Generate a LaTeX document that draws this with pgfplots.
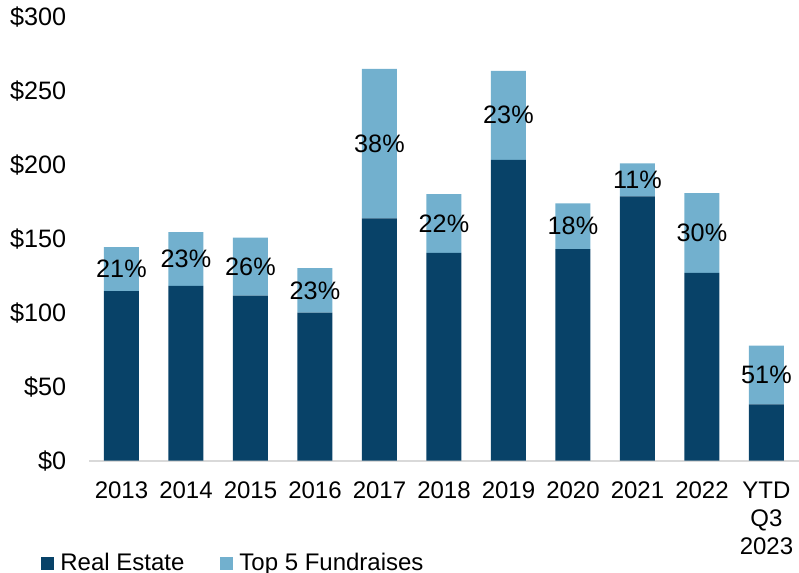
\documentclass[border=0pt]{standalone}
\usepackage{fontspec}
\setmainfont{Liberation Sans}
\usepackage{pgfplots}
\pgfplotsset{compat=1.18}
\definecolor{reDark}{RGB}{8,66,104}
\definecolor{topLight}{RGB}{114,176,206}
\definecolor{axisGray}{RGB}{217,217,217}
\tikzset{pct/.style={font=\fontsize{12.6}{14}\selectfont, inner sep=0pt}}

\begin{document}
\begin{tikzpicture}
  \begin{axis}[
    at={(0,0)}, anchor=south west,
    scale only axis,
    width=354.75pt, height=221.8pt,
    ybar stacked, bar width=17.5pt,
    xmin=-0.5, xmax=10.5,
    ymin=0, ymax=300,
    xtick={0,...,10},
    xticklabels={2013,2014,2015,2016,2017,2018,2019,2020,2021,2022,{YTD\\Q3\\2023}},
    ytick={0,50,...,300},
    yticklabels={\$0,\$50,\$100,\$150,\$200,\$250,\$300},
    axis x line*=bottom, axis y line*=left,
    x axis line style={axisGray, line width=1pt, -},
    y axis line style={draw=none},
    major tick length=0pt,
    yticklabel style={font=\fontsize{12.6}{14}\selectfont, anchor=east, inner sep=0pt, xshift=-11.3pt},
    xticklabel style={font=\fontsize{12}{14}\selectfont, align=center, anchor=north, inner sep=0pt, yshift=-10.5pt},
    legend columns=2,
    legend style={draw=none, fill=none, inner sep=0pt, at={(-0.068,-0.232)}, anchor=west,
      font=\fontsize{12}{14}\selectfont,
      nodes={inner sep=0pt},
      /tikz/every odd column/.append style={column sep=3pt},
      /tikz/every even column/.append style={column sep=18pt}},
    legend cell align=left,
    clip=false,
  ]
  % Real Estate (dark)
  \addplot[fill=reDark, draw=none,
    legend image code/.code={\fill[reDark] (0pt,-3.25pt) rectangle (6.5pt,3.25pt);}]
    coordinates {(0,114.7)(1,118.3)(2,111.6)(3,100.1)(4,163.9)(5,140.6)(6,203.5)(7,143.1)(8,178.8)(9,127.1)(10,38.1)};
  % Top 5 fundraises (light)
  \addplot[fill=topLight, draw=none,
    legend image code/.code={\fill[topLight] (0pt,-3.25pt) rectangle (6.5pt,3.25pt);}]
    coordinates {(0,29.8)(1,36.3)(2,39.2)(3,30.2)(4,101.1)(5,39.7)(6,60.2)(7,30.9)(8,22.3)(9,53.9)(10,39.7)};
  \legend{Real Estate, Top 5 Fundraises}
  % anchor points for the share labels (middle of the light segment)
  \coordinate (p0) at (axis cs:0,129.6);
  \coordinate (p1) at (axis cs:1,136.45);
  \coordinate (p2) at (axis cs:2,131.2);
  \coordinate (p3) at (axis cs:3,115.2);
  \coordinate (p4) at (axis cs:4,214.45);
  \coordinate (p5) at (axis cs:5,160.45);
  \coordinate (p6) at (axis cs:6,233.6);
  \coordinate (p7) at (axis cs:7,158.55);
  \coordinate (p8) at (axis cs:8,189.95);
  \coordinate (p9) at (axis cs:9,154.05);
  \coordinate (p10) at (axis cs:10,57.95);
  \end{axis}
  \foreach \i/\t in {0/21,1/23,2/26,3/23,4/38,5/22,6/23,7/18,8/11,9/30,10/51}
    \node[pct] at (p\i) {\t\%};
  \pgfresetboundingbox
  \useasboundingbox (-44.6pt,-56.15pt) rectangle (354.9pt,230.35pt);
\end{tikzpicture}
\end{document}
